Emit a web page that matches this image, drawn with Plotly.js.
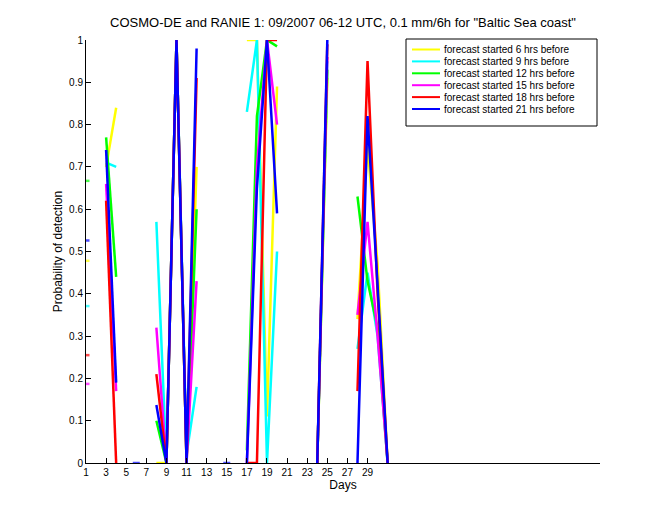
<!DOCTYPE html>
<html>
<head>
<meta charset="utf-8">
<script src="https://cdn.plot.ly/plotly-3.0.1.min.js"></script>
<style>html,body{margin:0;padding:0;background:#fff;}#chart{width:660px;height:520px;}</style>
</head>
<body>
<div id="chart"></div>
<script>
// Days 1..31 (06-12 UTC), probability of detection; null = no value
const days = Array.from({length: 31}, (_, i) => i + 1);

const seriesNames = [
  "forecast started 6 hrs before",
  "forecast started 9 hrs before",
  "forecast started 12 hrs before",
  "forecast started 15 hrs before",
  "forecast started 18 hrs before",
  "forecast started 21 hrs before"
];
const seriesColors = ["#ffff00", "#00ffff", "#00ff00", "#ff00ff", "#ff0000", "#0000ff"];

const n = null;
//            d1    d2  d3    d4    d5 d6 d7 d8    d9   d10  d11   d12   d13 d14 d15 d16 d17  d18  d19   d20   d21 d22 d23 d24 d25   d26 d27 d28   d29   d30   d31
const pod06 = [0.478, n, 0.70, 0.84, n, n, n, 0.00, 0.0, 1.0, 0.00, 0.70, n, n, n, n, 1.00, 1.00, 0.11, 0.89, n, n, n, 0.0, 0.91, n, n, 0.34, 0.75, 0.47, 0.0];
const pod09 = [0.371, n, 0.71, 0.70, n, n, n, 0.57, 0.0, 1.0, 0.02, 0.18, n, n, n, n, 0.83, 1.00, 0.00, 0.50, n, n, n, 0.0, 0.95, n, n, 0.27, 0.45, 0.30, 0.0];
const pod12 = [0.667, n, 0.77, 0.44, n, n, n, 0.10, 0.0, 1.0, 0.00, 0.60, n, n, n, n, 0.03, 0.82, 1.00, 0.985, n, n, n, 0.0, 0.93, n, n, 0.63, 0.43, 0.32, 0.0];
const pod15 = [0.187, n, 0.66, 0.17, n, n, n, 0.32, 0.0, 1.0, 0.00, 0.43, n, n, n, n, 0.00, 0.70, 1.00, 0.80, n, n, n, 0.0, 0.96, n, n, 0.35, 0.57, 0.30, 0.0];
const pod18 = [0.255, n, 0.62, 0.00, n, n, n, 0.21, 0.0, 1.0, 0.00, 0.91, n, n, n, n, 0.00, 0.00, 1.00, 1.00, n, n, n, 0.0, 0.99, n, n, 0.17, 0.95, 0.40, 0.0];
const pod21 = [0.526, n, 0.74, 0.19, n, 0.0, n, 0.137, 0.0, 1.0, 0.00, 0.98, n, n, 0.0, n, 0.00, 0.65, 1.00, 0.59, n, n, n, 0.0, 1.00, n, n, 0.00, 0.82, 0.42, 0.0];

const seriesValues = [pod06, pod09, pod12, pod15, pod18, pod21];

const xTickVals = [1,3,5,7,9,11,13,15,17,19,21,23,25,27,29];
const yTickVals = [0,0.1,0.2,0.3,0.4,0.5,0.6,0.7,0.8,0.9,1];
const yTickText = ["0","0.1","0.2","0.3","0.4","0.5","0.6","0.7","0.8","0.9","1"];

const titleText = 'COSMO-DE and RANIE 1: 09/2007 06-12 UTC, 0.1 mm/6h for "Baltic Sea coast"';

// isolated points (no neighbours) get a short dash marker so they remain visible
function markerSizes(vals) {
  return vals.map((v, i) => {
    if (v === null) return 0;
    const prev = i > 0 ? vals[i - 1] : null;
    const next = i < vals.length - 1 ? vals[i + 1] : null;
    return (prev === null && next === null) ? 5 : 0;
  });
}

const traces = seriesValues.map((vals, k) => ({
  x: days,
  y: vals,
  type: 'scatter',
  mode: 'lines+markers',
  name: seriesNames[k],
  line: {color: seriesColors[k], width: 2.5},
  marker: {symbol: 'line-ew', size: markerSizes(vals), line: {color: seriesColors[k], width: 2.5}, color: seriesColors[k]},
  connectgaps: false,
  showlegend: false,
  cliponaxis: true,
  hoverinfo: 'skip'
}));

// plot area geometry (pixels)
const W = 660, H = 520;
const L = 86, R = 60, T = 40, B = 57;
const pw = W - L - R, ph = H - T - B;
const px = x => (x - L) / pw;
const py = y => (H - B - y) / ph;

// custom legend box built from series names and colors
const legLeft = 406, legRight = 597, legTop = 39, legBottom = 126;
const shapes = [{
  type: 'rect', xref: 'paper', yref: 'paper',
  x0: px(legLeft), x1: px(legRight), y0: py(legBottom), y1: py(legTop),
  line: {color: '#000', width: 1}, fillcolor: '#fff', layer: 'above'
}];
const annotations = [];
seriesNames.forEach((name, k) => {
  const yy = 49.5 + k * 11.9;
  shapes.push({
    type: 'line', xref: 'paper', yref: 'paper',
    x0: px(412), x1: px(440), y0: py(yy), y1: py(yy),
    line: {color: seriesColors[k], width: 2}, layer: 'above'
  });
  annotations.push({
    xref: 'paper', yref: 'paper', x: px(442), y: py(yy),
    xanchor: 'left', yanchor: 'middle', showarrow: false,
    text: name, font: {family: 'Liberation Sans, Arial, sans-serif', size: 10, color: '#000'}
  });
});

const layout = {
  width: W, height: H,
  margin: {l: L, r: R, t: T, b: B, pad: 0},
  paper_bgcolor: '#fff', plot_bgcolor: '#fff',
  font: {family: 'Liberation Sans, Arial, sans-serif', size: 10, color: '#000'},
  title: {
    text: titleText,
    font: {family: 'Liberation Sans, Arial, sans-serif', size: 13, color: '#000'},
    x: px(343), xref: 'paper', xanchor: 'center',
    y: 1 - 22 / H, yref: 'container', yanchor: 'middle'
  },
  xaxis: {
    range: [1, 52.12],
    tickvals: xTickVals,
    ticks: 'inside', ticklen: 5, tickcolor: '#000', tickwidth: 1,
    showline: true, linecolor: '#000', linewidth: 1,
    showgrid: false, zeroline: false, mirror: false,
    tickfont: {size: 10},
    title: {text: 'Days', font: {size: 12}, standoff: 3}
  },
  yaxis: {
    range: [0, 1],
    tickvals: yTickVals, ticktext: yTickText,
    ticks: 'inside', ticklen: 5, tickcolor: '#000', tickwidth: 1,
    showline: true, linecolor: '#000', linewidth: 1,
    showgrid: false, zeroline: false, mirror: false,
    tickfont: {size: 10},
    title: {text: 'Probability of detection', font: {size: 12}, standoff: 3}
  },
  shapes: shapes,
  annotations: annotations,
  showlegend: false
};

Plotly.newPlot('chart', traces, layout, {displayModeBar: false, staticPlot: true});
</script>
</body>
</html>
